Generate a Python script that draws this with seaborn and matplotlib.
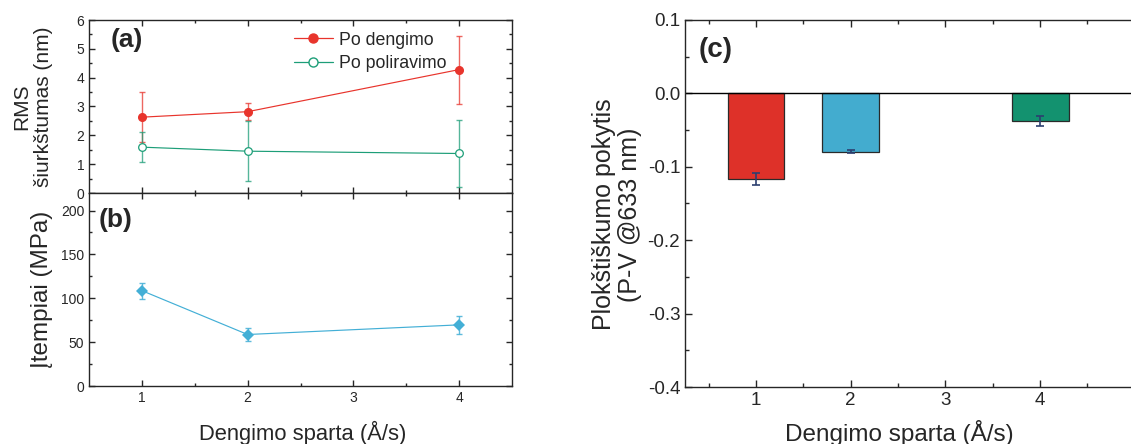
import numpy as np
import pandas as pd
import matplotlib
matplotlib.use("Agg")
import matplotlib.pyplot as plt
from matplotlib.ticker import MultipleLocator, FixedLocator
import seaborn as sns

sns.set_style("ticks")
plt.rcParams['font.family'] = ['Liberation Sans', 'DejaVu Sans']

# ---- data ----
rate = [1, 2, 4]
rms_dep = [2.63, 2.82, 4.28]
rms_dep_err = [0.86, 0.30, 1.18]
rms_pol = [1.59, 1.45, 1.37]
rms_pol_err = [0.52, 1.05, 1.17]
stress = [108.7, 58.7, 69.7]
stress_err = [9.0, 7.0, 10.0]
flat = [-0.117, -0.0795, -0.0377]
flat_err = [0.008, 0.002, 0.007]
bar_colors = ['#DE3129', '#43ACCF', '#13926F']

red = '#E8342C'
green = '#1D9E78'
blue = '#43AFD6'

W, H = 1131, 444
fig = plt.figure(figsize=(W / 100, H / 100), dpi=100)

def rect(x0, y0, x1, y1):
    return [x0 / W, 1 - y1 / H, (x1 - x0) / W, (y1 - y0) / H]

axa = fig.add_axes(rect(89, 20, 512, 193))
axb = fig.add_axes(rect(89, 193, 512, 386))
axc = fig.add_axes(rect(685, 20, 1131, 387))

tick_fs = 10
for ax in (axa, axb):
    ax.set_xlim(0.5, 4.5)
    ax.xaxis.set_major_locator(FixedLocator([1, 2, 3, 4]))
    ax.xaxis.set_minor_locator(FixedLocator([1.5, 2.5, 3.5]))
    ax.tick_params(which='both', direction='in', top=True, right=True,
                   labelsize=tick_fs, width=1.0)
    ax.tick_params(which='major', length=4)
    ax.tick_params(which='minor', length=2.5)
    for s in ax.spines.values():
        s.set_linewidth(1.0)

# ---- panel (a) ----
df_a = pd.DataFrame({'rate': rate * 2,
                     'rms': rms_dep + rms_pol,
                     'series': ['Po dengimo'] * 3 + ['Po poliravimo'] * 3})
sns.lineplot(data=df_a, x='rate', y='rms', hue='series',
             palette={'Po dengimo': red, 'Po poliravimo': green},
             lw=0.85, ax=axa, legend=False)
axa.errorbar(rate, rms_dep, yerr=rms_dep_err, fmt='none', ecolor=red,
             alpha=0.75, elinewidth=1.0, capsize=2.5, capthick=1.0)
axa.errorbar(rate, rms_pol, yerr=rms_pol_err, fmt='none', ecolor=green,
             alpha=0.75, elinewidth=1.0, capsize=2.5, capthick=1.0)
axa.plot(rate, rms_dep, 'o', color=red, ms=5.5, mec=red, zorder=4)
axa.plot(rate, rms_pol, 'o', mfc='white', mec=green, ms=5.5, mew=0.9, zorder=4)
h1, = axa.plot([], [], '-o', color=red, ms=6.5, lw=0.9)
h2, = axa.plot([], [], '-o', color=green, mfc='white', mec=green, ms=6.5, lw=0.9)
axa.legend([h1, h2], ['Po dengimo', 'Po poliravimo'], loc='upper left',
           bbox_to_anchor=(0.455, 1.005), frameon=False, fontsize=12.8,
           handlelength=2.2, handletextpad=0.35, labelspacing=0.38,
           borderaxespad=0.3)
axa.set_ylim(0, 6)
axa.yaxis.set_major_locator(MultipleLocator(1))
axa.yaxis.set_minor_locator(MultipleLocator(0.5))
axa.tick_params(labelbottom=False)
axa.set_xlabel('')
axa.set_ylabel('RMS\nšiurkštumas (nm)', fontsize=15, linespacing=1.2)
axa.yaxis.set_label_coords(-0.085, 0.5)
axa.text(0.05, 0.885, '(a)', transform=axa.transAxes, fontsize=19,
         fontweight='bold', va='center', ha='left')

# ---- panel (b) ----
df_b = pd.DataFrame({'rate': rate, 'stress': stress})
sns.lineplot(data=df_b, x='rate', y='stress', color=blue, lw=0.85, ax=axb,
             marker='D', ms=6.5, mec=blue, mew=0)
axb.errorbar(rate, stress, yerr=stress_err, fmt='none', ecolor=blue,
             alpha=0.85, elinewidth=1.0, capsize=2.5, capthick=1.0)
axb.set_ylim(0, 220)
axb.yaxis.set_major_locator(MultipleLocator(50))
axb.yaxis.set_minor_locator(MultipleLocator(25))
axb.set_ylabel('Įtempiai (MPa)', fontsize=17.5)
axb.yaxis.set_label_coords(-0.085, 0.5)
axb.set_xlabel('Dengimo sparta (Å/s)', fontsize=15.8)
axb.xaxis.set_label_coords(0.505, -0.18)
axb.text(0.022, 0.86, '(b)', transform=axb.transAxes, fontsize=19,
         fontweight='bold', va='center', ha='left')

# ---- panel (c) ----
df_c = pd.DataFrame({'rate': rate, 'flat': flat})
sns.barplot(data=df_c, x='rate', y='flat', hue='rate', palette=bar_colors,
            native_scale=True, width=0.6, errorbar=None, legend=False,
            edgecolor='#2a2a2a', linewidth=0.9, ax=axc, saturation=1)
axc.errorbar(rate, flat, yerr=flat_err, fmt='none', ecolor='#2C3F70',
             elinewidth=1.2, capsize=3, capthick=1.2, zorder=5)
axc.axhline(0, color='black', lw=1.0, zorder=1)
axc.set_xlim(0.25, 0.25 + (1131 - 685) / 94.7)
axc.set_ylim(-0.4, 0.1)
axc.xaxis.set_major_locator(FixedLocator([1, 2, 3, 4]))
axc.xaxis.set_minor_locator(FixedLocator([0.5, 1.5, 2.5, 3.5, 4.5]))
axc.yaxis.set_major_locator(MultipleLocator(0.1))
axc.yaxis.set_minor_locator(MultipleLocator(0.05))
axc.yaxis.set_major_formatter(matplotlib.ticker.FuncFormatter(
    lambda v, p: f'{v:.1f}' if abs(v) > 1e-9 else '0.0'))
axc.tick_params(which='both', labelsize=13.5, width=1.0)
axc.tick_params(axis='x', which='both', direction='in', top=True)
axc.tick_params(axis='y', which='both', direction='in', right=False)
axc.tick_params(which='major', length=5)
axc.tick_params(which='minor', length=3)
axc.spines['right'].set_visible(False)
for s in axc.spines.values():
    s.set_linewidth(1.0)
axc.set_ylabel('Plokštiškumo pokytis\n(P-V @633 nm)', fontsize=18,
               linespacing=1.1)
axc.yaxis.set_label_coords(-0.097, 0.47)
axc.set_xlabel('Dengimo sparta (Å/s)', fontsize=17.5)
axc.xaxis.set_label_coords(0.48, -0.09)
axc.text(0.03, 0.918, '(c)', transform=axc.transAxes, fontsize=20,
         fontweight='bold', va='center', ha='left')

fig.savefig('out.png', dpi=100)
